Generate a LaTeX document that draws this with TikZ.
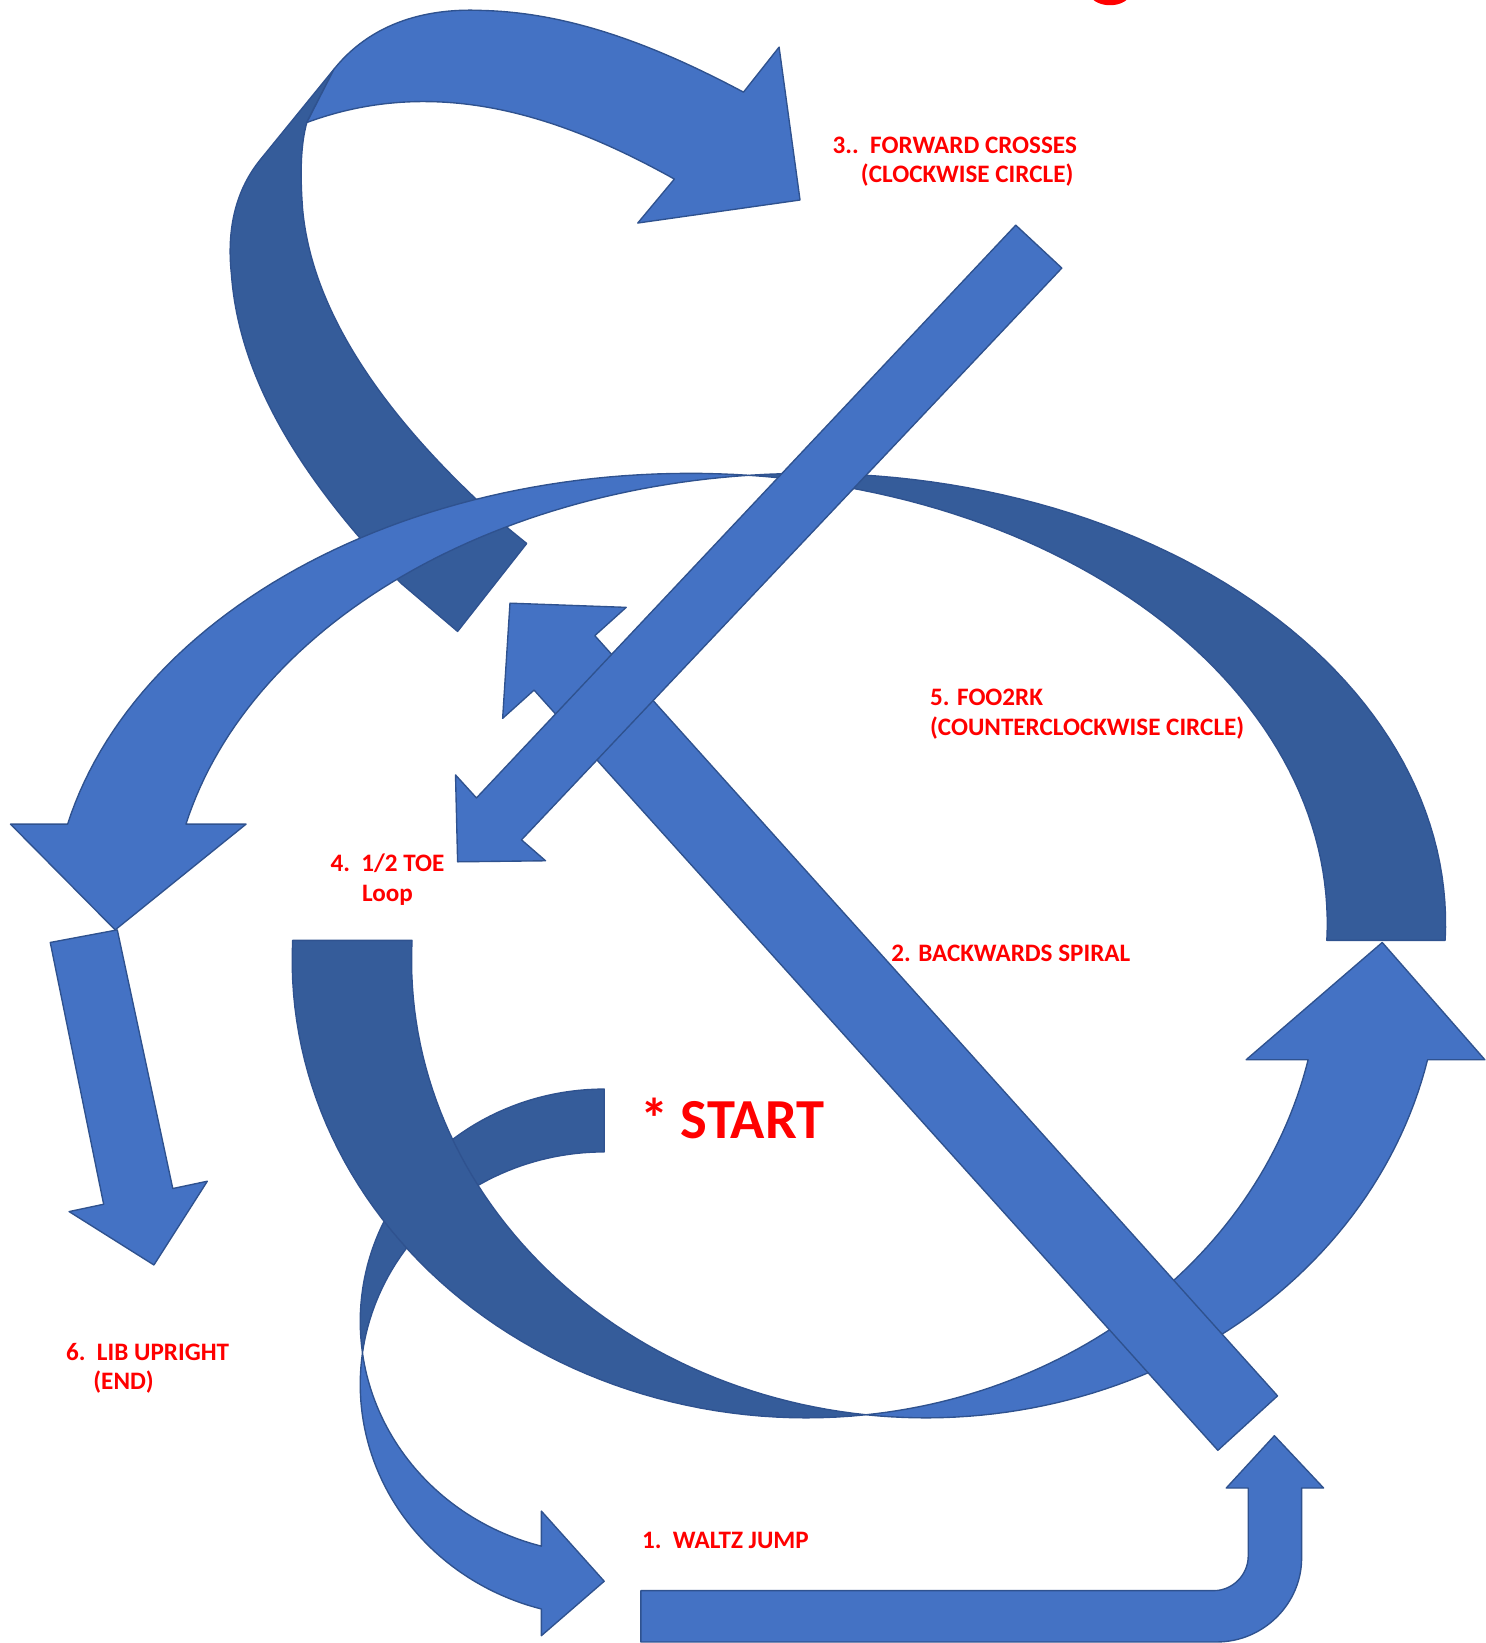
\documentclass[tikz,border=0pt]{standalone}
\usepackage{fontspec}
\setmainfont{Carlito}
\definecolor{arrowlight}{HTML}{4472C4}
\definecolor{arrowdark}{HTML}{355C9A}
\definecolor{arrowline}{HTML}{2F528F}
\tikzset{
  lightarrow/.style={fill=arrowlight, draw=arrowline, line width=1.3pt, line join=round},
  darkarrow/.style={fill=arrowdark, draw=arrowline, line width=1.3pt, line join=round},
  steplabel/.style={text=red, font=\bfseries\fontsize{24}{28}\selectfont, inner sep=0pt, anchor=west, align=left}
}
\begin{document}
\begin{tikzpicture}[x=1pt,y=-1pt]
	\useasboundingbox (0,0) rectangle (1419,1569);
	\clip (0,0) rectangle (1419,1569);
	% end of the cut-off title
	\fill [red] (1060,-8) ellipse [x radius=20, y radius=13];

	% 3. forward crosses
	\draw [darkarrow] (319,66) -- (249,152) .. controls (222,185) and (217,225) .. (221,262)
		.. controls (229,372) and (300,470) .. (383,557)
		-- (437,603) -- (503,519) -- (487,506)
		.. controls (400,430) and (300,320) .. (289,200)
		.. controls (286,160) and (288,135) .. (293,117) -- cycle;
	\draw [lightarrow] (319,66) .. controls (360,15) and (420,8) .. (461,10)
		.. controls (540,12) and (620,40) .. (710,88)
		-- (744,45) -- (764,191) -- (609,213) -- (644,171)
		.. controls (540,113) and (420,70) .. (293,117) -- cycle;

	% 5. big upper circle
	\draw [darkarrow] plot [domain=-95.32:2.13, samples=60, variable=\t] ({771.5+609*cos(\t)},{882+430*sin(\t)})
		-- plot [domain=2.13:-84.68, samples=60, variable=\t] ({658.5+609*cos(\t)},{882+430*sin(\t)}) -- cycle;
	\draw [lightarrow] plot [domain=-167.23:-84.68, samples=60, variable=\t] ({658.5+609*cos(\t)},{882+430*sin(\t)})
		-- plot [domain=-95.32:-167.23, samples=60, variable=\t] ({771.5+609*cos(\t)},{882+430*sin(\t)})
		-- (235,787) -- (110,888) -- (10,787) -- cycle;

	% 1. small loop from the start
	\draw [darkarrow] plot [domain=-90:-187.77, samples=50, variable=\t] ({577+233*cos(\t)},{1262+222*sin(\t)})
		-- plot [domain=-172.23:-90, samples=50, variable=\t] ({577+233*cos(\t)},{1322+222*sin(\t)}) -- cycle;
	\draw [lightarrow] plot [domain=187.77:104.92, samples=50, variable=\t] ({577+233*cos(\t)},{1322+222*sin(\t)})
		-- (517,1562) -- (577,1510) -- (517,1443)
		-- plot [domain=104.92:172.23, samples=50, variable=\t] ({577+233*cos(\t)},{1262+222*sin(\t)}) -- cycle;

	% big lower circle
	\draw [darkarrow] plot [domain=182.49:83.33, samples=60, variable=\t] ({770+491*cos(\t)},{917+437*sin(\t)})
		-- plot [domain=96.67:182.49, samples=60, variable=\t] ({884+491*cos(\t)},{917+437*sin(\t)}) -- cycle;
	\draw [lightarrow] plot [domain=96.67:12.56, samples=60, variable=\t] ({884+491*cos(\t)},{917+437*sin(\t)})
		-- (1418,1012) -- (1320,900) -- (1190,1012)
		-- plot [domain=12.56:83.33, samples=60, variable=\t] ({770+491*cos(\t)},{917+437*sin(\t)}) -- cycle;

	% straight arrows
	\draw [lightarrow] (487,576) -- (598,580) -- (568,607) -- (1220,1333) -- (1163,1385) -- (510,659) -- (480,686) -- cycle;
	\draw [lightarrow] (970,215) -- (1014,256) -- (498,802) -- (521,822) -- (437,823) -- (435,740) -- (455,762) -- cycle;
	\draw [lightarrow] (48,900) -- (112,888) -- (165,1135) -- (198,1128) -- (147,1208) -- (66,1157) -- (99,1150) -- cycle;
	\draw [lightarrow] (612,1519) -- (1159,1519) .. controls (1177,1519) and (1192,1504) .. (1192,1486) -- (1192,1421) -- (1171,1421) -- (1217,1371) -- (1264,1421) -- (1243,1421) -- (1243,1488) .. controls (1243,1531) and (1207,1568) .. (1162,1568) -- (612,1568) -- cycle;

	% labels
	\node [steplabel] (forward) at (795,154.5) {3..~~FORWARD CROSSES\\\hspace*{27pt}(CLOCKWISE CIRCLE)};
	\node [steplabel] (foo) at (888,682) {5. FOO2RK\\(COUNTERCLOCKWISE CIRCLE)};
	\node [steplabel, anchor=center, align=center] (toe) at (370,840) {4.~~1/2 TOE\\Loop};
	\node [steplabel] (spiral) at (851,910) {2. BACKWARDS SPIRAL};
	\node [steplabel, font=\bfseries\fontsize{54}{60}\selectfont] (start) at (611,1068) {* START};
	\node [steplabel] (upright) at (63,1307) {6.~~LIB UPRIGHT\\\hspace*{26pt}(END)};
	\node [steplabel] (waltz) at (613,1471) {1.~~WALTZ JUMP};
\end{tikzpicture}
\end{document}
